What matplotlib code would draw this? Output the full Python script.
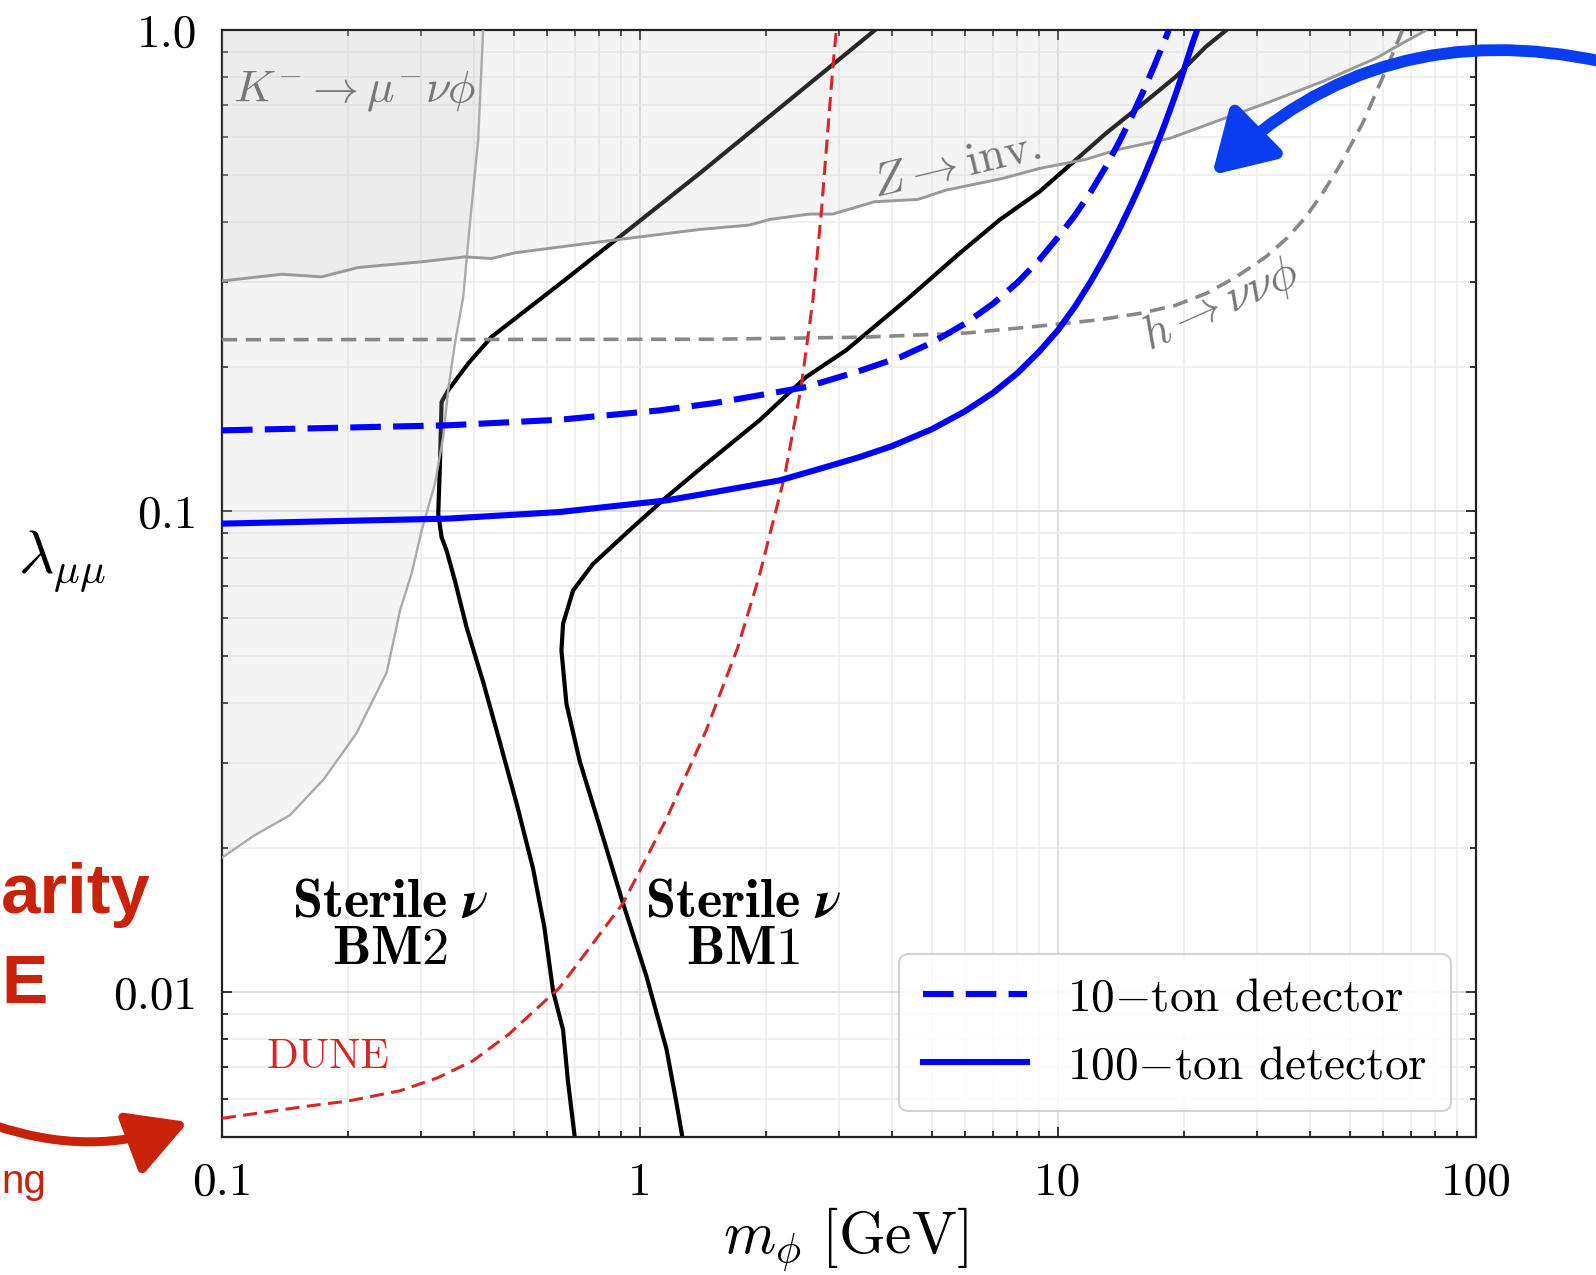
import matplotlib
matplotlib.use("Agg")
import matplotlib.pyplot as plt
from matplotlib.patches import FancyArrowPatch
from matplotlib.ticker import NullFormatter

# K- -> mu- nu phi bound (grey shaded to the left)
k_x = [0.1, 0.1196, 0.1455, 0.1751, 0.2096, 0.2478, 0.2666, 0.2841, 0.3004,
       0.3232, 0.3382, 0.3476, 0.3607, 0.3777, 0.390, 0.410, 0.4215]
k_y = [0.01905, 0.0212, 0.02336, 0.02772, 0.03452, 0.04627, 0.0622, 0.0742,
       0.0913, 0.1142, 0.1428, 0.1786, 0.2234, 0.2792, 0.3806, 0.5919, 1.0]

# Z -> inv. bound (grey shaded above)
z_x = [0.1, 0.139, 0.173, 0.212, 0.300, 0.381, 0.441, 0.502, 0.724, 1.389,
       1.829, 2.043, 2.546, 2.894, 3.64, 4.62, 5.40, 7.38, 9.03, 11.67, 13.76,
       18.52, 23.43, 31.43, 42.9, 57.6, 66.6, 75.8]
z_y = [0.3014, 0.3112, 0.3074, 0.3215, 0.3303, 0.3382, 0.3356, 0.3449, 0.3594,
       0.3857, 0.3939, 0.4046, 0.4152, 0.4152, 0.4404, 0.4453, 0.4656, 0.4925,
       0.5165, 0.5395, 0.564, 0.5966, 0.643, 0.7056, 0.7826, 0.8752, 0.940, 1.0]

# h -> nu nu phi (dashed grey)
h_x = [0.1, 1.489, 3.45, 6.04, 9.03, 12.51, 15.65, 19.05, 22.6, 26.66,
       31.43, 35.27, 39.2, 42.9, 47.03, 53.53, 59.7, 66.65]
h_y = [0.2275, 0.228, 0.2303, 0.2349, 0.2429, 0.2502, 0.2579, 0.2679,
       0.2838, 0.3071, 0.3382, 0.3696, 0.4098, 0.4581, 0.5206, 0.6408,
       0.7951, 1.0]

# DUNE (red dashed)
dune_x = [0.1, 0.1582, 0.2002, 0.2666, 0.328, 0.399, 0.4855, 0.6425, 0.9107,
          1.157, 1.439, 1.712, 1.926, 2.216, 2.423, 2.592, 2.714, 2.894, 2.948]
dune_y = [0.00547, 0.00579, 0.00594, 0.00624, 0.00664, 0.00721, 0.00818,
          0.01023, 0.01531, 0.02294, 0.035, 0.052, 0.073, 0.1179, 0.1786,
          0.2749, 0.4164, 0.841, 1.0]

# sterile nu benchmarks (black)
bm2_x = [3.64, 1.389, 0.9365, 0.6607, 0.4414, 0.388, 0.3476, 0.3352, 0.3322,
         0.3291, 0.3352, 0.3445, 0.3607, 0.3847, 0.4219, 0.4622, 0.5077,
         0.5549, 0.5904, 0.6197, 0.6546, 0.672, 0.698]
bm2_y = [1.0, 0.5044, 0.3844, 0.3027, 0.2306, 0.2029, 0.1786, 0.1689, 0.1257,
         0.0989, 0.0884, 0.0829, 0.0718, 0.0574, 0.04406, 0.0331, 0.02454,
         0.01807, 0.01366, 0.01004, 0.00835, 0.00657, 0.0050]

bm1_x = [25.22, 22.59, 19.15, 15.65, 13.02, 11.25, 9.03, 7.24, 5.81, 4.33,
         3.113, 2.499, 1.932, 1.442, 1.157, 0.9627, 0.7723, 0.6918, 0.6546,
         0.6487, 0.6668, 0.7178, 0.8013, 0.9107, 1.036, 1.157, 1.222, 1.263]
bm1_y = [1.0, 0.9254, 0.8017, 0.6944, 0.6109, 0.5463, 0.4621, 0.4034, 0.3438,
         0.2749, 0.2163, 0.1904, 0.1547, 0.1257, 0.1071, 0.0928, 0.0778,
         0.0685, 0.0584, 0.0514, 0.0398, 0.0302, 0.0221, 0.01531, 0.0108,
         0.00762, 0.0059, 0.0050]

# detector reach (blue)
ton10_x = [0.1, 0.3476, 0.6427, 1.115, 1.509, 1.932, 2.5, 3.35, 4.2, 5.0,
           6.0, 7.0, 8.0, 9.0, 10.0, 11.0, 12.0, 13.0, 14.0, 15.0, 16.0,
           17.0, 18.0, 18.4]
ton10_y = [0.1474, 0.151, 0.1551, 0.1622, 0.168, 0.1744, 0.1814, 0.1959,
           0.2094, 0.2244, 0.2459, 0.2705, 0.2992, 0.3326, 0.3716, 0.4136,
           0.4628, 0.5198, 0.5856, 0.661, 0.7475, 0.8448, 0.9541, 1.0]

ton100_x = [0.1, 0.3476, 0.6427, 1.157, 1.509, 2.159, 2.7, 3.352, 4.0, 5.0,
            6.0, 7.0, 8.0, 9.0, 10.0, 11.0, 12.0, 13.0, 14.0, 15.0, 16.0,
            17.0, 18.0, 19.0, 20.0, 21.0, 21.5]
ton100_y = [0.0943, 0.0966, 0.0997, 0.1054, 0.1097, 0.116, 0.1227, 0.1297,
            0.1366, 0.1483, 0.1616, 0.1765, 0.1939, 0.2146, 0.2381, 0.2672,
            0.3014, 0.3405, 0.3853, 0.4364, 0.4939, 0.5607, 0.6375, 0.7254,
            0.8264, 0.9433, 1.0]

x_ticks = [0.1, 1, 10, 100]
x_labels = ["0.1", "1", "10", "100"]
y_ticks = [0.01, 0.1, 1.0]
y_labels = ["0.01", "0.1", "1.0"]

plt.rcParams["font.family"] = "serif"
plt.rcParams["font.serif"] = ["cmr10"]
plt.rcParams["mathtext.fontset"] = "cm"
plt.rcParams["axes.unicode_minus"] = False

RED = "#d62728"
SLIDE_RED = "#c8230a"
SANS = ["Liberation Sans", "DejaVu Sans"]

fig = plt.figure(figsize=(15.96, 12.75), dpi=100, facecolor="white")
ax = fig.add_axes([0.1391, 0.1082, 0.7857, 0.8679])
ax.set_xscale("log")
ax.set_yscale("log")
ax.set_xlim(0.1, 100)
ax.set_ylim(0.005, 1.0)

ax.grid(which="major", color="#dcdcdc", lw=1.3, zorder=0)
ax.grid(which="minor", color="#ececec", lw=1.1, zorder=0)
ax.set_axisbelow(True)

# black benchmark curves sit under the shading
ax.plot(bm2_x, bm2_y, color="black", lw=3.0, zorder=2)
ax.plot(bm1_x, bm1_y, color="black", lw=3.0, zorder=2)

# shaded exclusions
ax.fill_betweenx(k_y, 0.1, k_x, color="0.8", alpha=0.2, lw=0, zorder=3)
ax.fill_between(z_x, z_y, 1.0, color="0.8", alpha=0.2, lw=0, zorder=3)
ax.plot(k_x, k_y, color="#aaaaaa", lw=1.7, zorder=4)
ax.plot(z_x, z_y, color="#999999", lw=2.1, zorder=4)
ax.plot(h_x, h_y, color="#888888", lw=2.6, ls=(0, (4.2, 2.4)), zorder=4)

ax.plot(dune_x, dune_y, color=RED, lw=2.2, ls=(0, (4.6, 2.4)), zorder=4)

ax.plot(ton10_x, ton10_y, color="blue", lw=4.4, ls=(0, (5.0, 2.0)),
        zorder=5, label=r"10$-$ton detector")
ax.plot(ton100_x, ton100_y, color="blue", lw=4.4, zorder=5,
        label=r"100$-$ton detector")

# labels inside the plot
ax.text(0.106, 0.745, r"$K^{-}\rightarrow\mu^{-}\nu\phi$", fontsize=33,
        color="#777777", ha="left", va="center", zorder=6)
ax.text(5.71, 0.5226, r"$Z\rightarrow\mathrm{inv.}$", fontsize=34,
        color="#777777", ha="center", va="center", rotation=13.5,
        rotation_mode="anchor", zorder=6)
ax.text(24.5, 0.268, r"$h\rightarrow\nu\nu\phi$", fontsize=34,
        color="#777777", ha="center", va="center", rotation=24,
        rotation_mode="anchor", zorder=6)
ax.text(0.179, 0.00732, "DUNE", fontsize=30, color=RED, ha="center",
        va="center", zorder=6)
ax.text(0.252, 0.01367, "$\\mathbf{Sterile}\\ \\boldsymbol{\\nu}$\n$\\mathbf{BM2}$",
        fontsize=39, ha="center", va="center", linespacing=1.0, zorder=6)
ax.text(1.771, 0.01367, "$\\mathbf{Sterile}\\ \\boldsymbol{\\nu}$\n$\\mathbf{BM1}$",
        fontsize=39, ha="center", va="center", linespacing=1.0, zorder=6)

ax.set_xticks(x_ticks, x_labels)
ax.set_yticks(y_ticks, y_labels)
ax.xaxis.set_minor_formatter(NullFormatter())
ax.yaxis.set_minor_formatter(NullFormatter())
ax.tick_params(which="both", direction="in", top=True, right=True,
               width=1.4, color="#333333")
ax.tick_params(which="major", length=7, labelsize=34, pad=18)
ax.tick_params(which="minor", length=4.5)
for sp in ax.spines.values():
    sp.set_linewidth(1.6)
    sp.set_color("#222222")

ax.set_xlabel(r"$m_\phi\ [\mathrm{GeV}]$", fontsize=43)
ax.xaxis.set_label_coords(0.497, -0.062)
ax.set_ylabel(r"$\lambda_{\mu\mu}$", fontsize=44, rotation=0, va="center")
ax.yaxis.set_label_coords(-0.128, 0.52)

leg = ax.legend(loc="lower right", bbox_to_anchor=(0.9797, 0.0231),
                borderaxespad=0, fontsize=34, handlelength=2.2,
                handletextpad=0.85, labelspacing=0.55, borderpad=0.5,
                fancybox=True, framealpha=0.85, edgecolor="#cccccc")
leg.get_frame().set_linewidth(1.5)
leg.set_zorder(7)

# slide annotations around the figure
fig.text(0.0944, 0.284, "arity", fontsize=51, fontweight="bold",
         family=SANS, color=SLIDE_RED, ha="right", va="baseline")
fig.text(0.0300, 0.2136, "E", fontsize=50, fontweight="bold",
         family=SANS, color=SLIDE_RED, ha="right", va="baseline")
fig.text(0.0287, 0.064, "ng", fontsize=29,
         family=SANS, color=SLIDE_RED, ha="right", va="baseline")

fig.add_artist(FancyArrowPatch((-0.004, 0.1176), (0.1178, 0.12),
                               transform=fig.transFigure,
                               connectionstyle="arc3,rad=0.18",
                               arrowstyle="-|>,head_length=1.0,head_width=0.55",
                               mutation_scale=36, color=SLIDE_RED, lw=6.5,
                               shrinkA=0, shrinkB=0, zorder=10))
fig.add_artist(FancyArrowPatch((1.005, 0.9514), (0.7594, 0.8627),
                               transform=fig.transFigure,
                               connectionstyle="arc3,rad=0.27",
                               arrowstyle="-|>,head_length=1.0,head_width=0.6",
                               mutation_scale=36, color="#0a3cf0", lw=8.5,
                               shrinkA=0, shrinkB=0, zorder=10))

fig.savefig("out.png", dpi=100, facecolor="white")
